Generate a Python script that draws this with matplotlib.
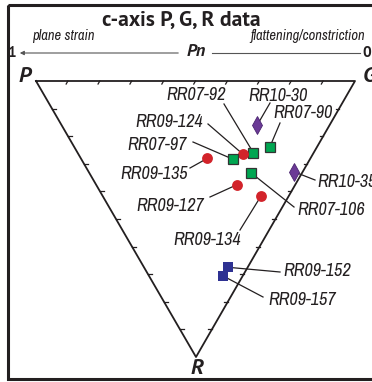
import numpy as np
import matplotlib.pyplot as plt
from matplotlib import font_manager as fm

# ternary fractions (P, G, R sum to 1)
samples = ["RR10-30", "RR07-90", "RR07-92", "RR09-124", "RR07-97", "RR09-135",
           "RR07-106", "RR10-35", "RR09-127", "RR09-134", "RR09-152", "RR09-157"]
p_val = [0.227, 0.148, 0.189, 0.221, 0.240, 0.323, 0.158, 0.027, 0.183, 0.087, 0.061, 0.060]
g_val = [0.614, 0.614, 0.551, 0.515, 0.476, 0.397, 0.508, 0.644, 0.441, 0.496, 0.264, 0.233]
r_val = [0.159, 0.238, 0.260, 0.264, 0.284, 0.280, 0.334, 0.329, 0.376, 0.417, 0.675, 0.707]
group = ["RR10", "RR07", "RR07", "RR09a", "RR07", "RR09a",
         "RR07", "RR10", "RR09a", "RR09a", "RR09b", "RR09b"]

# layout: triangle corners in pixel space
P0 = np.array([36.0, 81.0])
G0 = np.array([355.0, 81.0])
R0 = np.array([196.0, 357.0])

def tern(p, g, r):
    p, g, r = np.asarray(p), np.asarray(g), np.asarray(r)
    x = p * P0[0] + g * G0[0] + r * R0[0]
    y = p * P0[1] + g * G0[1] + r * R0[1]
    return x, y

fonts = fm.fontManager.ttflist
def has(name, bold=False, italic=False):
    for f in fonts:
        if f.name != name:
            continue
        w = f.weight if isinstance(f.weight, int) else (700 if "bold" in str(f.weight) else 400)
        if bold and w < 600:
            continue
        if italic and f.style == "normal":
            continue
        return True
    return False

def pick(cands, bold=False, italic=False):
    for c in cands:
        if has(c, bold, italic):
            return [c, "DejaVu Sans"]
    return ["DejaVu Sans"]

narrow = pick(["Archivo Narrow", "Asap Condensed", "Barlow Semi Condensed"], italic=True)
bold_font = pick(["Source Sans 3", "Source Sans Pro", "PT Sans", "Open Sans", "Lato"], bold=True)
bold_it = pick(["Source Sans 3", "Source Sans Pro", "PT Sans", "Open Sans", "Lato"], bold=True, italic=True)

styles = {
    "RR10": dict(marker="d", ms=9, mfc="#6b3a96", mec="#4a2470", mew=0.6),
    "RR07": dict(marker="s", ms=7.2, mfc="#00a651", mec="#333333", mew=0.9),
    "RR09a": dict(marker="o", ms=7.8, mfc="#d2232a", mec="#d2232a", mew=0),
    "RR09b": dict(marker="s", ms=6.6, mfc="#2e3192", mec="#2e3192", mew=0),
}

# label text position (left, middle) and leader start
labels = {
    "RR10-30": (248, 96, 270, 103),
    "RR07-90": (273, 113, 280, 123),
    "RR07-92": (166, 95, 224, 104),
    "RR09-124": (135, 122, 208, 124),
    "RR07-97": (127, 145, 193, 142),
    "RR09-135": (120, 174, 190, 168),
    "RR07-106": (297, 210, 294, 207),
    "RR10-35": (317, 182, 315, 180),
    "RR09-127": (136, 206, 210, 197),
    "RR09-134": (173, 240, 240, 230),
    "RR09-152": (283, 271, 280, 272),
    "RR09-157": (268, 300, 263, 297),
}

fig = plt.figure(figsize=(3.72, 3.82), dpi=100)
ax = fig.add_axes([0, 0, 1, 1])
ax.set_xlim(0, 372)
ax.set_ylim(382, 0)
ax.axis("off")

ink = "#231f20"

# frame
ax.add_patch(plt.Rectangle((8, 5), 370, 374, fill=False, lw=2.2, ec=ink))

# triangle
tri = np.array([P0, G0, R0, P0])
ax.plot(tri[:, 0], tri[:, 1], color=ink, lw=1.3, zorder=2)

# ticks every 10 %
tl = 3.5
def unit(v):
    return v / np.hypot(*v)
for k in range(1, 10):
    f = k / 10
    for a, d in [(P0 + f * (G0 - P0), unit(R0 - G0)),
                 (P0 + f * (R0 - P0), unit(G0 - P0)),
                 (G0 + f * (R0 - G0), unit(P0 - G0))]:
        ax.plot([a[0], a[0] + d[0] * tl], [a[1], a[1] + d[1] * tl], color=ink, lw=0.9)

# points and labels
xs, ys = tern(p_val, g_val, r_val)
for name, x, y, grp in zip(samples, xs, ys, group):
    tx, ty, lx, ly = labels[name]
    ax.plot([lx, x], [ly, y], color=ink, lw=0.9, zorder=3)
    ax.plot(x, y, linestyle="none", zorder=4, **styles[grp])
    ax.text(tx, ty, name, fontsize=13, style="italic", family=narrow,
            ha="left", va="center", color=ink)

# title and Pn scale
ax.text(181, 20, "c-axis P, G, R data", fontsize=15.5, fontweight="bold",
        ha="center", va="center", color=ink, family=bold_font)
ax.text(32, 36, "plane strain", fontsize=10.5, style="italic", family=narrow,
        ha="left", va="center", color=ink)
ax.text(365, 36, "flattening/constriction", fontsize=10.5, style="italic", family=narrow,
        ha="right", va="center", color=ink)
ax.text(11, 53, "1", fontsize=11, fontweight="bold", ha="center", va="center", color=ink,
        family=bold_font)
ax.text(367, 53, "0", fontsize=11, fontweight="bold", ha="center", va="center", color=ink,
        family=bold_font)
ax.text(196, 52, "Pn", fontsize=13, fontweight="bold", style="italic",
        ha="center", va="center", color=ink, family=bold_it)
ax.annotate("", xy=(17, 53), xytext=(181, 53),
            arrowprops=dict(arrowstyle="-|>", color="#555555", lw=0.8, mutation_scale=6))
ax.plot([212, 360], [53, 53], color="#555555", lw=0.8)

# corner letters
for txt, cx, cy in [("P", 25, 77), ("G", 369, 76), ("R", 197, 369)]:
    ax.text(cx, cy, txt, fontsize=16, fontweight="bold", style="italic", ha="center",
            va="center", color=ink, family=bold_it)

fig.savefig("out.png", dpi=100)
